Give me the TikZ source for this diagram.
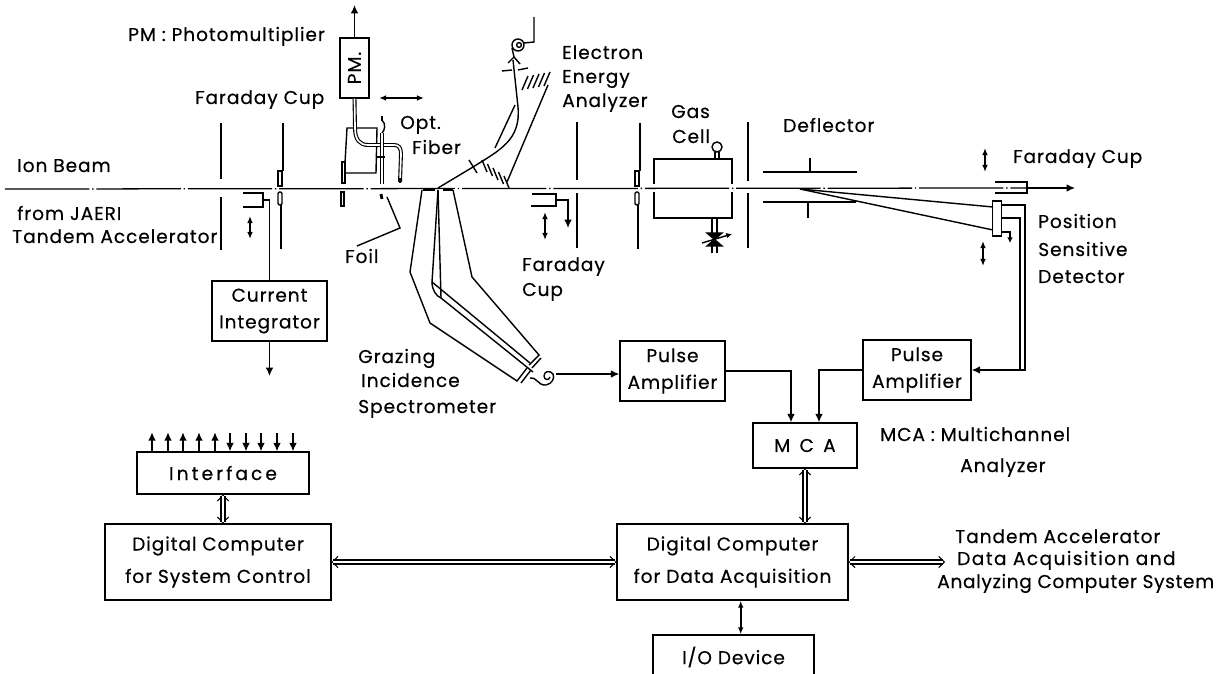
\documentclass[tikz,border=0pt]{standalone}
\usepackage{fontspec}
\setmainfont[LetterSpace=5,FakeBold=0.4]{Poppins}
\usetikzlibrary{positioning, arrows.meta, calc}

\begin{document}
\begin{tikzpicture}[
    x=0.025cm, y=-0.025cm,
    font=\fontsize{13.2}{17}\selectfont,
    box/.style={draw, line width=1pt, inner sep=0pt, align=center},
    lbl/.style={anchor=base west, inner sep=0pt},
    wire/.style={line width=1pt},
    arrow/.style={wire, -{Latex[length=6pt, width=5.5pt]}},
    shift2/.style={wire, {Latex[length=5pt, width=4pt]}-{Latex[length=5pt, width=4pt]}},
    dbl/.style={line width=1pt, double, double distance=1.8pt, shorten <=1.2pt, shorten >=1.2pt},
    dbltip/.style={draw=white, line width=0.7pt,
        {Straight Barb[black, length=4pt, width=8pt]}-{Straight Barb[black, length=4pt, width=8pt]}},
    fiber/.style={line width=0.8pt, double, double distance=1.2pt},
    plate/.style={line width=1.1pt},
    stopper/.style={line width=2pt},
    beam/.style={line width=0.9pt, dash pattern=on 60pt off 2pt on 1pt off 2pt},
]
\useasboundingbox (0,0) rectangle (1220,674);

% ── Beam line ────────────────────────────────────────────────────────────
\coordinate (beamin) at (5,189);
\coordinate (beamout) at (1075,188);
\draw[beam] (beamin) -- (1040,188);
\draw[arrow] (1027,188) -- (beamout);
\node[lbl] (ionbeam) at (17,172) {Ion Beam};
\node[lbl] (fromjaeri) at (17,220) {from JAERI};
\node[lbl] (tandem) at (12,243) {Tandem Accelerator};

% ── Apertures ────────────────────────────────────────────────────────────
\foreach \xa/\ya/\yb in {221/123/179, 221/197/250, 577/122/180, 577/193/248,
                         748/122/181, 748/193/248} {
    \draw[plate] (\xa,\ya) -- (\xa,\yb);
}
% slit with foil holes
\foreach \xa in {283,640} {
    \draw[plate] (\xa,123) -- (\xa,171);
    \draw[wire] (\xa-5,171) rectangle (\xa-1,186);
    \draw[wire, rounded corners=1pt] (\xa-5,192) rectangle (\xa-1,205);
    \draw[plate] (\xa-2,205) -- (\xa-2,249);
}

% ── Faraday cups ─────────────────────────────────────────────────────────
\draw[plate] (243,193) -- (263,193) -- (263,207) -- (243,207);
\coordinate (cupa) at (263,200);
\draw[plate] (532,194) -- (556,194) -- (556,206) -- (531,206);
\coordinate (cupb) at (556,200);
\draw[arrow] (cupb) -- (568,200) -- (568,228);
\draw[plate] (995,182) -- (1027,182) -- (1027,193) -- (995,193);
\foreach \xa/\ya/\yb in {250/216/239, 545/212/240, 985/148/172, 983/241/266} {
    \draw[shift2] (\xa,\ya) -- (\xa,\yb);
}
\node[lbl] (fcleft) at (195,104) {Faraday Cup};
\node[lbl] (fcmid) at (522,271) {Faraday};
\node[lbl] (fcmidb) at (522,296) {Cup};
\node[lbl] (fcright) at (1013,163) {Faraday Cup};

% ── Current integrator ───────────────────────────────────────────────────
\node[box, minimum width=2.875cm, minimum height=1.5cm] (integ) at (269.5,311)
    {Current\\[2pt]Integrator};
\coordinate (integout) at (269.5,376);
\draw[wire] (cupa) -| (integ.north);
\draw[arrow] (integ.south) -- (integout);

% ── Photomultiplier and fiber ────────────────────────────────────────────
\node[box, minimum width=0.725cm, minimum height=1.5cm] (pm) at (354.5,68)
    {\rotatebox{90}{PM.}};
\coordinate (pmout) at (354.5,5);
\draw[arrow] (pm.north) -- (pmout);
\node[lbl] (pmtext) at (128,41) {PM : Photomultiplier};
\draw[shift2] (379,98) -- (424,98);
\draw[wire] (345,163) -- (347,128) -- (377,128) -- (376,173) -- (346,173);
\draw[fiber] (pm.south) -- (355,128) .. controls (355,140) and (360,145) .. (368,145)
    -- (394,145) .. controls (399,145) and (401,148) .. (401,154) -- (400,182);
\draw[stopper] (400,178) -- (400,183);
\draw[wire] (342,162) rectangle (345,183);
\draw[wire] (341,192) rectangle (344,206);
\draw[fiber] (382,133) -- (382,184);
\draw[stopper] (377,157) -- (385,157);
\draw[stopper] (382,116) -- (382,121);
\draw[wire] (382,120) .. controls (386,124) and (385,130) .. (382,133);
\draw[stopper] (381,194) -- (382,199);
\draw[wire] (387,197) -- (400,228) -- (357,246);
\node[lbl] (opt) at (400,129) {Opt.};
\node[lbl] (fibertext) at (412,154) {Fiber};
\node[lbl] (foil) at (345,263) {Foil};

% ── Electron energy analyzer ─────────────────────────────────────────────
\draw[wire] (438,188) -- (473,167) .. controls (500,150) and (521,140) .. (518,107) -- (513,60);
\draw[wire] (495,148) -- (515,105);
\draw[wire] (507,182) -- (548,85);
\foreach \i in {0,...,4} {
    \draw[wire] (522+5.5*\i,90-\i) -- ++(6,-14);
    \draw[wire] (482+5.5*\i,160+4*\i) -- ++(5,12);
}
\draw[wire] (469,160) -- (477,173);
\draw[wire] (508,63) -- (514,57) -- (520,64);
\draw[wire] (502,71) -- (512,70);
\draw[wire] (518,70) -- (528,68);
\draw[wire] (514,57) -- (512,48);
\draw[wire] (518,45) circle[radius=0.15cm];
\draw[wire] (519,45) circle[radius=0.06cm];
\draw[wire] (524,43) -- (534,42) -- (534,17);
\node[lbl] (electron) at (562,59) {Electron};
\node[lbl] (energy) at (562,83) {Energy};
\node[lbl] (analyzer) at (562,107) {Analyzer};

% ── Gas cell ─────────────────────────────────────────────────────────────
\draw[plate] (654,184) -- (654,159) -- (732,159) -- (732,184);
\draw[plate] (654,192) -- (654,218) -- (732,218) -- (732,192);
\draw[wire] (717,147) circle[radius=0.125cm];
\draw[wire] (715,152) -- (715,159);
\draw[wire] (719,152) -- (719,159);
\draw[wire] (712,218) -- (712,233);
\draw[wire] (717,218) -- (717,233);
\draw[wire, fill=black] (707,233) -- (722,246) -- (707,246) -- (722,233) -- cycle;
\draw[wire] (712,246) -- (712,253);
\draw[wire] (717,246) -- (717,253);
\draw[wire, -{Latex[length=4pt, width=4pt]}] (702,243) -- (732,234);
\node[lbl] (gas) at (671,118) {Gas};
\node[lbl] (cell) at (672,143) {Cell};

% ── Deflector ────────────────────────────────────────────────────────────
\draw[stopper] (763,172) -- (857,172);
\draw[wire] (810,158) -- (810,172);
\draw[stopper] (763,202) -- (856,202);
\draw[wire] (808,202) -- (808,218);
\draw[wire] (800,189) -- (993,207);
\draw[wire] (800,189) -- (993,230);
\node[lbl] (deflector) at (783,132) {Deflector};

% ── Position sensitive detector ──────────────────────────────────────────
\node[box, minimum width=0.225cm, minimum height=0.875cm] (psd) at (997,218.5) {};
\coordinate (psdtop) at (1001,205);
\coordinate (psdmid) at (1001,218);
\draw[wire, -{Latex[length=4pt, width=4pt]}] (1002,232) -- (1010,232) -- (1010,243);
\node[lbl] (position) at (1038,228) {Position};
\node[lbl] (sensitive) at (1038,256) {Sensitive};
\node[lbl] (detector) at (1038,283) {Detector};

% ── Grazing incidence spectrometer ───────────────────────────────────────
\draw[stopper] (423,190) -- (435,190);
\draw[stopper] (443,190) -- (453,190);
\draw[wire] (422,190) -- (410,272) -- (430,323) -- (517,381) -- (527,368);
\draw[wire] (453,190) -- (472,277) -- (539,355) -- (529,365);
\draw[wire] (521,383) -- (531,370);
\draw[wire] (532,368) -- (541,358);
\draw[wire] (438,190) -- (432,282) -- (530,363);
\draw[wire] (438,190) -- (441,298) -- (533,372);
\draw[wire] (432,282) .. controls (432,290) and (436,296) .. (441,298);
\draw[wire] (530,378) .. controls (536,376) and (538,386) .. (546,385) .. controls (552,384) and (555,378) .. (553,374)
    .. controls (550,370) and (544,371) .. (544,376) .. controls (544,380) and (549,381) .. (550,377);
\coordinate (coilout) at (556,374);
\node[lbl] (grazing) at (358,363) {Grazing};
\node[lbl] (incidence) at (361,387) {Incidence};
\node[lbl] (spectro) at (358,413) {Spectrometer};

% ── Pulse amplifiers and MCA ─────────────────────────────────────────────
\node[box, minimum width=2.625cm, minimum height=1.5cm] (pulsea) at (672.5,371)
    {Pulse\\[2pt]Amplifier};
\node[box, minimum width=2.7cm, minimum height=1.5cm] (pulseb) at (917,370)
    {Pulse\\[2pt]Amplifier};
\node[box, minimum width=2.6cm, minimum height=1.125cm] (mca) at (805,445.5)
    {M\,\,\,C\,\,\,A};
\node[lbl] (mcatext) at (880,441) {MCA : Multichannel};
\node[lbl] (mcatextb) at (960,472) {Analyzer};
\draw[arrow] (coilout) -- (coilout -| pulsea.west);
\draw[arrow] (pulsea.east) -| ([xshift=-0.35cm]mca.north);
\draw[arrow] (pulseb.west) -| ([xshift=0.35cm]mca.north);
\draw[arrow] (psdtop) -| (1025,370) -- (pulseb.east);
\draw[wire] (psdmid) -| (1020,370);

% ── Computers ────────────────────────────────────────────────────────────
\node[box, minimum width=5.775cm, minimum height=1.9cm] (daq) at (732.5,562)
    {Digital Computer\\[6pt]for Data Acquisition};
\node[box, minimum width=5.65cm, minimum height=1.9cm] (sysc) at (218,562)
    {Digital Computer\\[6pt]for System Control};
\node[box, minimum width=4.3cm, minimum height=1.05cm] (iface) at (223,473)
    {I\,n\,t\,e\,r\,f\,a\,c\,e};
\node[box, minimum width=4.025cm, minimum height=1.1cm] (iodev) at (733.5,657)
    {I/O Device};
\coordinate (tandemsys) at (945,562);
\coordinate (ifaceout) at (iface.south |- sysc.north);
\coordinate (mcaout) at (mca.south |- daq.north);
\foreach \pa/\pb in {iface.south/ifaceout, sysc.east/daq.west, mca.south/mcaout, daq.east/tandemsys} {
    \draw[dbltip] (\pa) -- (\pb);
    \draw[dbl] (\pa) -- (\pb);
}
\draw[shift2, line width=1.6pt] ([xshift=0.18cm]iodev.north) -- ([xshift=0.18cm]iodev.north |- daq.south);
\foreach \xa in {152,168,183,199,215} {
    \draw[arrow] (\xa,0 |- iface.north) -- ++(0,-19);
}
\foreach \xa in {230,246,261,277,293} {
    \draw[arrow] (\xa,433) -- (\xa,0 |- iface.north);
}
\node[lbl] (tandema) at (955,543) {Tandem Accelerator};
\node[lbl] (tandemb) at (957,565) {\addfontfeature{LetterSpace=7.7}Data Acquisition and};
\node[lbl] (tandemc) at (937,588) {\addfontfeature{LetterSpace=3.5}Analyzing Computer System};

\end{tikzpicture}
\end{document}
